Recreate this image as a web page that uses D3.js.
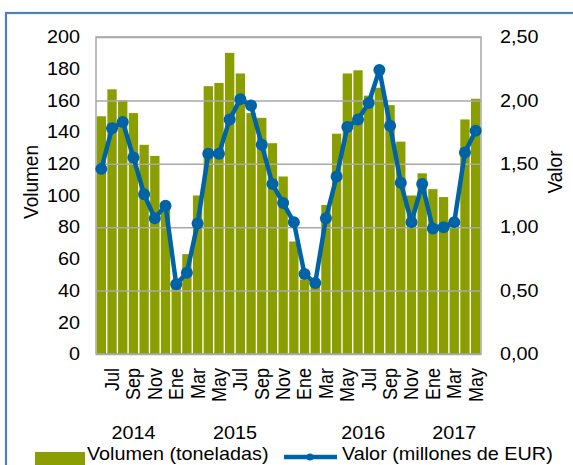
<!DOCTYPE html>
<html lang="es">
<head>
<meta charset="utf-8"/>
<title>Volumen y valor</title>
<script src="https://cdn.jsdelivr.net/npm/d3@7"></script>
<style>
  body { margin: 0; background: #fff; }
  svg { display: block; font-family: "Liberation Sans", Arial, sans-serif; }
</style>
</head>
<body>
<div id="chart"></div>
<script>
// categorias: meses de jun 2014 a may 2017
const meses = ["Jun","Jul","Ago","Sep","Oct","Nov","Dic",
               "Ene","Feb","Mar","Abr","May","Jun","Jul","Ago","Sep","Oct","Nov","Dic",
               "Ene","Feb","Mar","Abr","May","Jun","Jul","Ago","Sep","Oct","Nov","Dic",
               "Ene","Feb","Mar","Abr","May"];
const anios = ["2014", "2015", "2016", "2017"];
const mesesPorAnio = [7, 12, 12, 5];

// volumen (toneladas), eje izquierdo
const volumen = [150,167,160,152,132,125,95,
                 42,63,100,169,171,190,177,152,149,133,112,71,
                 47,44,94,139,177,179,163,168,157,134,100,114,
                 104,99,83,148,161];

// valor (millones de EUR), eje derecho
const valor = [1.46,1.78,1.83,1.55,1.26,1.07,1.17,
               0.55,0.64,1.03,1.58,1.58,1.85,2.01,1.96,1.65,1.34,1.19,1.04,
               0.63,0.56,1.07,1.40,1.79,1.85,1.98,2.24,1.80,1.35,1.04,1.34,
               0.99,1.00,1.04,1.59,1.76];

const ticksIzq = [0,20,40,60,80,100,120,140,160,180,200];
const ticksDer = [0,0.5,1,1.5,2,2.5];

const svgWidth = 573, svgHeight = 465;
const plot = { left: 96, right: 481, top: 37, bottom: 354 };
const SX = 1.1;          // el texto del original sale algo ensanchado
const verde = "#8a9e00", azul = "#0063a6";

const svg = d3.select("#chart").append("svg")
    .attr("width", svgWidth).attr("height", svgHeight);

// marco exterior
svg.append("rect")
    .attr("x", 6).attr("y", 13)
    .attr("width", 700).attr("height", 600)
    .attr("fill", "none").attr("stroke", "#4f81bd").attr("stroke-width", 2.2);

const x = d3.scaleBand()
    .domain(d3.range(meses.length))
    .range([plot.left, plot.right])
    .paddingInner(0.13).paddingOuter(0.065);

const yIzq = d3.scaleLinear().domain([0, 200]).range([plot.bottom, plot.top]);
const yDer = d3.scaleLinear().domain([0, 2.5]).range([plot.bottom, plot.top]);

// barras
svg.append("g").selectAll("rect")
    .data(volumen)
    .join("rect")
    .attr("x", (d, i) => x(i))
    .attr("width", x.bandwidth())
    .attr("y", d => yIzq(d))
    .attr("height", d => yIzq(0) - yIzq(d))
    .attr("fill", verde);

// rejilla
svg.append("g")
    .attr("transform", `translate(${plot.left},0)`)
    .call(d3.axisRight(yDer).tickValues(ticksDer)
            .tickSize(plot.right - plot.left).tickFormat(""))
    .call(g => g.select(".domain").remove())
    .selectAll("line")
    .attr("stroke", "#a8a8a8").attr("stroke-width", 1.5);

// borde del area de trazado
svg.append("rect")
    .attr("x", plot.left).attr("y", plot.top)
    .attr("width", plot.right - plot.left)
    .attr("height", plot.bottom - plot.top)
    .attr("fill", "none").attr("stroke", "#a8a8a8").attr("stroke-width", 1.5);

// linea de valor
const cx = i => x(i) + x.bandwidth() / 2;
const linea = d3.line().x((d, i) => cx(i)).y(d => yDer(d));

svg.append("path")
    .datum(valor)
    .attr("fill", "none")
    .attr("stroke", azul)
    .attr("stroke-width", 4.5)
    .attr("stroke-linejoin", "round")
    .attr("d", linea);

svg.append("g").selectAll("circle")
    .data(valor)
    .join("circle")
    .attr("cx", (d, i) => cx(i))
    .attr("cy", d => yDer(d))
    .attr("r", 6)
    .attr("fill", azul);

// ejes
svg.append("g")
    .attr("transform", `translate(${plot.left},0)`)
    .call(d3.axisLeft(yIzq).tickValues(ticksIzq).tickSize(0).tickPadding(16))
    .call(g => g.select(".domain").remove())
    .call(g => g.selectAll("text")
        .attr("x", -16 / SX)
        .attr("transform", `scale(${SX},1)`)
        .attr("font-size", 18).attr("fill", "#000"));

const coma = d3.format(".2f");
svg.append("g")
    .attr("transform", `translate(${plot.right},0)`)
    .call(d3.axisRight(yDer).tickValues(ticksDer).tickSize(0).tickPadding(19)
            .tickFormat(d => coma(d).replace(".", ",")))
    .call(g => g.select(".domain").remove())
    .call(g => g.selectAll("text")
        .attr("x", 19 / SX)
        .attr("transform", `scale(${SX},1)`)
        .attr("font-size", 18).attr("fill", "#000"));

svg.append("g")
    .attr("transform", `translate(0,${plot.bottom})`)
    .call(d3.axisBottom(x).tickValues(d3.range(1, meses.length, 2))
            .tickSize(0).tickFormat(i => meses[i]))
    .call(g => g.select(".domain").remove())
    .call(g => g.selectAll("text")
        .attr("x", 0).attr("y", 0).attr("dy", "0.35em")
        .attr("text-anchor", "end")
        .attr("transform", `translate(0,14) scale(${SX},1) rotate(-90)`)
        .attr("font-size", 18).attr("fill", "#000"));

// años bajo los meses
let inicio = 0;
anios.forEach((a, k) => {
    const fin = inicio + mesesPorAnio[k] - 1;
    const centro = (x(inicio) + x(fin) + x.bandwidth()) / 2;
    svg.append("text")
        .attr("transform", `translate(${centro},439) scale(${SX},1)`)
        .attr("text-anchor", "middle")
        .attr("font-size", 18)
        .text(a);
    inicio = fin + 1;
});

// titulos de ejes
svg.append("text")
    .attr("transform", `translate(31,182) scale(${SX},1) rotate(-90)`)
    .attr("dy", "0.35em").attr("text-anchor", "middle")
    .attr("font-size", 19)
    .text("Volumen");

svg.append("text")
    .attr("transform", `translate(555,172) scale(${SX},1) rotate(-90)`)
    .attr("dy", "0.35em").attr("text-anchor", "middle")
    .attr("font-size", 19)
    .text("Valor");

// leyenda
const ley = svg.append("g");
ley.append("rect")
    .attr("x", 35).attr("y", 452).attr("width", 50).attr("height", 14)
    .attr("fill", verde);
ley.append("text")
    .attr("transform", `translate(87,460) scale(${SX},1)`)
    .attr("font-size", 18)
    .text("Volumen (toneladas)");
ley.append("line")
    .attr("x1", 284).attr("x2", 337).attr("y1", 457).attr("y2", 457)
    .attr("stroke", azul).attr("stroke-width", 4.5);
ley.append("circle")
    .attr("cx", 310).attr("cy", 457).attr("r", 3.5).attr("fill", azul);
ley.append("text")
    .attr("transform", `translate(342,460) scale(${SX},1)`)
    .attr("font-size", 18)
    .text("Valor (millones de EUR)");
</script>
</body>
</html>
